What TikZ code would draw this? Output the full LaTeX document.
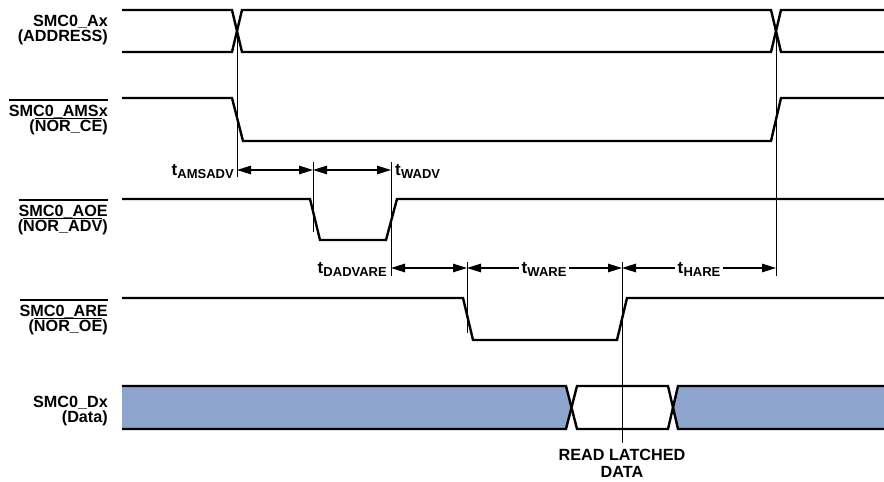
\documentclass[tikz,border=0pt]{standalone}
\usepackage{fontspec}
\setmainfont{Liberation Sans}
\usetikzlibrary{arrows.meta}
\definecolor{databl}{RGB}{141,165,204}
\newcommand\ovl[2]{{\setbox0=\hbox{#2}\rlap{\raisebox{#1}{\rule{\wd0}{1.3pt}}}\box0}}
\newcommand\tsub[1]{t\kern0.3pt\raisebox{-3pt}{\fontsize{13}{13}\selectfont #1}}
\begin{document}
\begin{tikzpicture}[x=1pt,y=-1pt,
  sig/.style={line width=2.4pt, line join=miter},
  guide/.style={line width=0.9pt},
  dim/.style={line width=1.3pt, {Triangle[length=14pt,width=8.5pt]}-{Triangle[length=14pt,width=8.5pt]}},
  lbl/.style={font=\fontsize{16.2}{16.2}\selectfont\bfseries, inner sep=0pt},
  tlbl/.style={font=\fontsize{17}{17}\selectfont\bfseries, inner sep=0pt},
  gap/.style={fill=white, inner xsep=3pt, inner ysep=1pt}]
\useasboundingbox (0,0) rectangle (884,482);

% data fill
\fill[databl] (122,386) -- (566,386) -- (571.5,407.5) -- (566,429) -- (122,429) -- cycle;
\fill[databl] (884,386) -- (678,386) -- (673,407.5) -- (678,429) -- (884,429) -- cycle;

% signals
\draw[sig] (122,10) -- (232,10) -- (242,52) -- (771,52) -- (781,10) -- (884,10);
\draw[sig] (122,52) -- (232,52) -- (242,10) -- (771,10) -- (781,52) -- (884,52);
\draw[sig] (122,98) -- (232,98) -- (243,141) -- (771,141) -- (781,98) -- (884,98);
\draw[sig] (122,199) -- (310,199) -- (320,240) -- (386,240) -- (397,199) -- (884,199);
\draw[sig] (122,298) -- (463,298) -- (473,340) -- (617,340) -- (627,298) -- (884,298);
\draw[sig] (122,386) -- (566,386) -- (577,429) -- (668,429) -- (678,386) -- (884,386);
\draw[sig] (122,429) -- (566,429) -- (577,386) -- (668,386) -- (678,429) -- (884,429);

% guide lines
\coordinate (g1t) at (237,31);  \coordinate (g1b) at (237,177);
\coordinate (g2t) at (313,162); \coordinate (g2b) at (313,232);
\coordinate (g3t) at (391,162); \coordinate (g3b) at (391,276);
\coordinate (g4t) at (467,262); \coordinate (g4b) at (467,333);
\coordinate (g5t) at (622,262); \coordinate (g5b) at (622,443);
\coordinate (g6t) at (776,31);  \coordinate (g6b) at (776,276);
\foreach \g in {1,...,6} \draw[guide] (g\g t) -- (g\g b);

% dimension arrows
\coordinate (a1) at (237,170); \coordinate (a2) at (313,170); \coordinate (a3) at (391,170);
\coordinate (b1) at (391,268); \coordinate (b2) at (467,268); \coordinate (b3) at (622,268); \coordinate (b4) at (776,268);
\draw[dim] (a1) -- (a2);
\draw[dim] (a2) -- (a3);
\draw[dim] (b1) -- (b2);
\draw[dim] (b2) -- (b3);
\draw[dim] (b3) -- (b4);

% timing labels
\node[tlbl, anchor=base east] (tamsadv) at (234,175) {\tsub{AMSADV}};
\node[tlbl, anchor=base west] (twadv) at (395,175) {\tsub{WADV}};
\node[tlbl, anchor=base east] (tdadvare) at (387,273) {\tsub{DADVARE}};
\node[tlbl, gap, anchor=base] (tware) at (544,273) {\tsub{WARE}};
\node[tlbl, gap, anchor=base] (thare) at (699,273) {\tsub{HARE}};

% signal labels
\node[lbl, anchor=base east] (l1a) at (108,26.5) {SMC0\_Ax};
\node[lbl, anchor=base east] (l1b) at (108,41.2) {(ADDRESS)};
\node[lbl, anchor=base east] (l2a) at (108,116.7) {\ovl{16pt}{SMC0\_AMSx}};
\node[lbl, anchor=base east] (l2b) at (108,131.4) {(\ovl{12.6pt}{NOR\_CE})};
\node[lbl, anchor=base east] (l3a) at (108,216.7) {\ovl{16pt}{SMC0\_AOE}};
\node[lbl, anchor=base east] (l3b) at (108,231.4) {(\ovl{12.6pt}{NOR\_ADV})};
\node[lbl, anchor=base east] (l4a) at (108,316.7) {\ovl{16pt}{SMC0\_ARE}};
\node[lbl, anchor=base east] (l4b) at (108,331.4) {(\ovl{12.6pt}{NOR\_OE})};
\node[lbl, anchor=base east] (l5a) at (108,407.5) {SMC0\_Dx};
\node[lbl, anchor=base east] (l5b) at (108,422.2) {(Data)};

% read latched
\node[lbl, anchor=base] (rl1) at (622,460) {READ LATCHED};
\node[lbl, anchor=base] (rl2) at (622,477) {DATA};
\end{tikzpicture}
\end{document}
